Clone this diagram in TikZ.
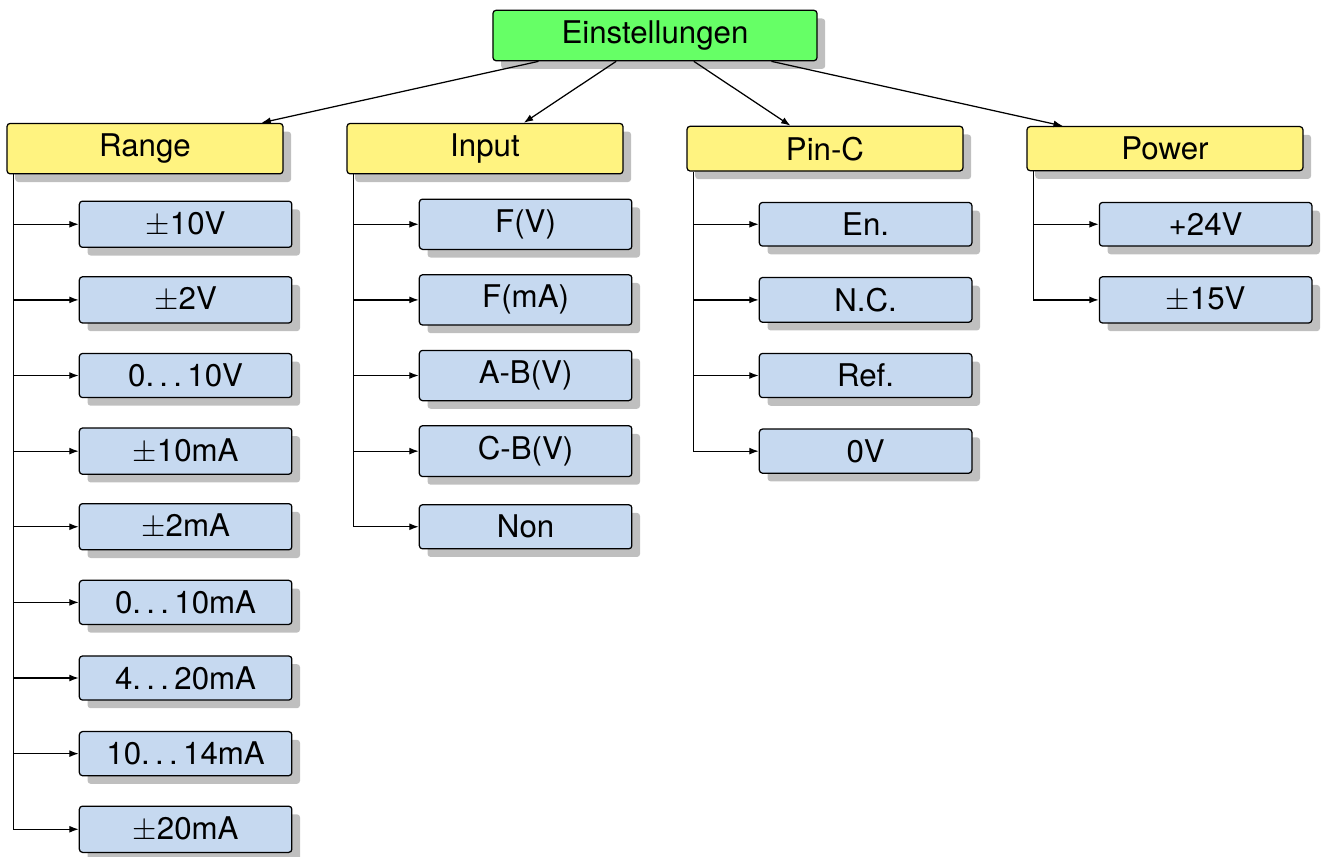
\documentclass[tikz,border=0pt]{standalone}
\usepackage{fontspec}
\setmainfont{TeX Gyre Heros}
\usepackage{tikz}
\usetikzlibrary{arrows.meta,positioning,shadows}
\definecolor{rootgreen}{RGB}{102,255,102}
\definecolor{headyellow}{RGB}{255,243,128}
\definecolor{leafblue}{RGB}{198,217,240}
\newcommand{\rng}{.\kern0.17em.\kern0.17em.\kern0.17em}

\begin{document}
\begin{tikzpicture}[node distance=24.2pt and 13pt, on grid,
                    arr/.style={-{Latex[length=3pt,width=2.2pt]}}]
  % styles
  \tikzstyle{box}=[rectangle,rounded corners=1pt,draw,align=center,drop shadow]
  \tikzstyle{rootbox}=[box,fill=rootgreen,minimum width=103.7pt]
  \tikzstyle{headbox}=[box,fill=headyellow,minimum width=88.3pt]
  \tikzstyle{leafbox}=[box,fill=leafblue,minimum width=68pt]

  \useasboundingbox (-209.6pt,11.36pt) rectangle (213.76pt,-262.56pt);

  % nodes
  \node[rootbox] (root) {Einstellungen};
  \node[headbox,below left=36.2pt and 163.2pt of root]  (range) {Range};
  \node[headbox,below left=36.2pt and 54.4pt of root]   (input) {Input};
  \node[headbox,below right=36.2pt and 54.4pt of root]  (pinc)  {Pin-C};
  \node[headbox,below right=36.2pt and 163.2pt of root] (power) {Power};

  \node[leafbox,below right=of range] (r1) {$\pm$10V};
  \node[leafbox,below=of r1] (r2) {$\pm$2V};
  \node[leafbox,below=of r2] (r3) {0\rng10V};
  \node[leafbox,below=of r3] (r4) {$\pm$10mA};
  \node[leafbox,below=of r4] (r5) {$\pm$2mA};
  \node[leafbox,below=of r5] (r6) {0\rng10mA};
  \node[leafbox,below=of r6] (r7) {4\rng20mA};
  \node[leafbox,below=of r7] (r8) {10\rng14mA};
  \node[leafbox,below=of r8] (r9) {$\pm$20mA};

  \node[leafbox,below right=of input] (i1) {F(V)};
  \node[leafbox,below=of i1] (i2) {F(mA)};
  \node[leafbox,below=of i2] (i3) {A-B(V)};
  \node[leafbox,below=of i3] (i4) {C-B(V)};
  \node[leafbox,below=of i4] (i5) {Non};

  \node[leafbox,below right=of pinc] (p1) {En.};
  \node[leafbox,below=of p1] (p2) {N.C.};
  \node[leafbox,below=of p2] (p3) {Ref.};
  \node[leafbox,below=of p3] (p4) {0V};

  \node[leafbox,below right=of power] (w1) {+24V};
  \node[leafbox,below=of w1] (w2) {$\pm$15V};

  % arrows from the root
  \draw[arr] (root) -- (range);
  \draw[arr] (root) -- (input);
  \draw[arr] (root) -- (pinc);
  \draw[arr] (root) -- (power);

  % trunks
  \coordinate (rt) at ([xshift=2.2pt]range.south west);
  \coordinate (it) at ([xshift=2.2pt]input.south west);
  \coordinate (pt) at ([xshift=2.2pt]pinc.south west);
  \coordinate (wt) at ([xshift=2.2pt]power.south west);
  \draw[arr] (rt) |- (r9);
  \draw[arr] (it) |- (i5);
  \draw[arr] (pt) |- (p4);
  \draw[arr] (wt) |- (w2);

  % branches
  \draw[arr] (rt |- r1) -- (r1);
  \draw[arr] (rt |- r2) -- (r2);
  \draw[arr] (rt |- r3) -- (r3);
  \draw[arr] (rt |- r4) -- (r4);
  \draw[arr] (rt |- r5) -- (r5);
  \draw[arr] (rt |- r6) -- (r6);
  \draw[arr] (rt |- r7) -- (r7);
  \draw[arr] (rt |- r8) -- (r8);
  \draw[arr] (it |- i1) -- (i1);
  \draw[arr] (it |- i2) -- (i2);
  \draw[arr] (it |- i3) -- (i3);
  \draw[arr] (it |- i4) -- (i4);
  \draw[arr] (pt |- p1) -- (p1);
  \draw[arr] (pt |- p2) -- (p2);
  \draw[arr] (pt |- p3) -- (p3);
  \draw[arr] (wt |- w1) -- (w1);
\end{tikzpicture}
\end{document}
